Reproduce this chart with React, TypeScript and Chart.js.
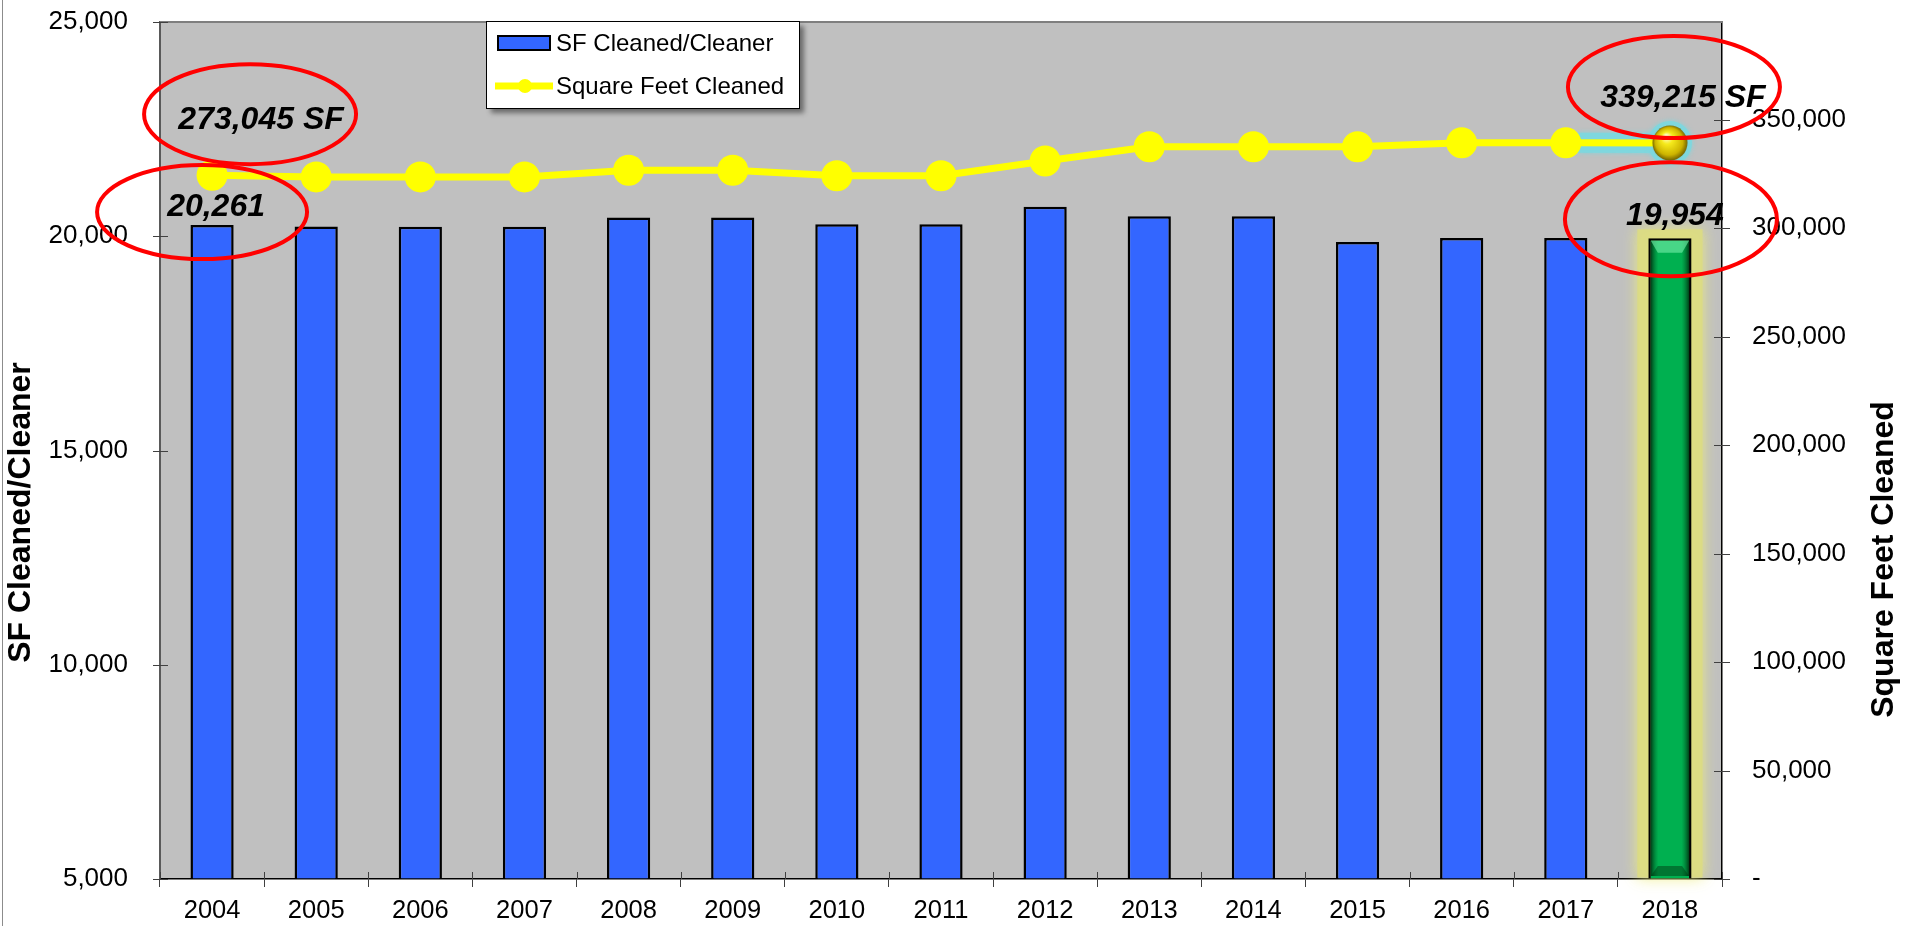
import React, { useEffect, useRef } from 'react';
import { Chart, registerables } from 'chart.js';

Chart.register(...registerables);

// ---------- data ----------
const years = ['2004', '2005', '2006', '2007', '2008', '2009', '2010', '2011', '2012', '2013', '2014', '2015', '2016', '2017', '2018'];
const sfPerCleaner = [20261, 20230, 20220, 20220, 20440, 20440, 20280, 20280, 20690, 20465, 20465, 19865, 19960, 19960, 19954];
const squareFeetCleaned = [324400, 323600, 323600, 323600, 326700, 326700, 324100, 324100, 330900, 337500, 337500, 337500, 339300, 339300, 339215];
const leftTicks = [5000, 10000, 15000, 20000, 25000];
const leftAxisRange = [5000, 25000];
const rightTicks = [0, 50000, 100000, 150000, 200000, 250000, 300000, 350000];
const rightAxisRange = [0, 395000];
const barCalloutIndex = [0, 14];
const lineCalloutIndex = [0, 14];
const lineCalloutText = ['273,045 SF', '339,215 SF'];
const highlightIndex = 14;

// ---------- styles ----------
const FONT = "'Liberation Sans', Arial, Helvetica, sans-serif";
const BLUE = '#3366ff';
const GREEN = '#00b050';
const YELLOW = '#ffff00';
const PLOT_BG = '#c0c0c0';
const TICK = '#404040';
// label offsets (dx, baseline dy) and ellipse (dx, dy, rx, ry) relative to anchors
const barLabelStyle = [
  { dx: 4, dy: -9, ex: -10, ey: -13, rx: 105, ry: 47 },
  { dx: 5, dy: -13, ex: 1, ey: -19, rx: 106, ry: 57 },
];
const lineLabelStyle = [
  { dx: 49, dy: -46, ex: 38, ey: -61, rx: 106, ry: 50 },
  { dx: 13, dy: -36, ex: 4, ey: -56, rx: 106, ry: 51 },
];

const fmt = (v: number) => Number(v).toLocaleString('en-US');

function makeSphere(): HTMLCanvasElement {
  const s = document.createElement('canvas');
  s.width = 36;
  s.height = 36;
  const c = s.getContext('2d')!;
  const g = c.createRadialGradient(14, 11, 1, 18, 18, 18);
  g.addColorStop(0, '#ffffd8');
  g.addColorStop(0.3, '#f6ea1c');
  g.addColorStop(0.75, '#cdb400');
  g.addColorStop(1, '#6a5a00');
  c.fillStyle = g;
  c.beginPath();
  c.arc(18, 18, 17.5, 0, Math.PI * 2);
  c.fill();
  return s;
}

const decorPlugin = {
  id: 'decor',
  beforeDraw(chart: any) {
    const { ctx, chartArea: a } = chart;
    ctx.save();
    ctx.fillStyle = '#ffffff';
    ctx.fillRect(0, 0, chart.width, chart.height);
    ctx.fillStyle = PLOT_BG;
    ctx.fillRect(a.left, a.top, a.right - a.left, a.bottom - a.top);
    ctx.strokeStyle = '#8c8c8c';
    ctx.lineWidth = 1;
    ctx.beginPath();
    ctx.moveTo(2.5, 0);
    ctx.lineTo(2.5, chart.height);
    ctx.stroke();
    ctx.restore();
  },
  beforeDatasetDraw(chart: any, args: any) {
    const ctx = chart.ctx;
    if (args.index === 0) {
      const el = args.meta.data[highlightIndex];
      if (!el) return;
      const { x, y, base, width } = el.getProps(['x', 'y', 'base', 'width'], true);
      const pad = 11;
      ctx.save();
      ctx.shadowColor = 'rgba(238,238,120,0.95)';
      ctx.shadowBlur = 14;
      ctx.fillStyle = 'rgba(220,220,130,0.9)';
      ctx.fillRect(x - width / 2 - pad, y - 9, width + pad * 2, base - y + 8);
      ctx.restore();
    }
    if (args.index === 1) {
      const pts = args.meta.data;
      const p1 = pts[highlightIndex - 1];
      const p2 = pts[highlightIndex];
      if (!p1 || !p2) return;
      ctx.save();
      ctx.strokeStyle = 'rgba(125,215,222,0.95)';
      ctx.shadowColor = 'rgba(125,215,222,1)';
      ctx.shadowBlur = 5;
      ctx.lineWidth = 20;
      ctx.beginPath();
      ctx.moveTo(p1.x + 12, p1.y);
      ctx.lineTo(p2.x, p2.y);
      ctx.stroke();
      ctx.fillStyle = 'rgba(125,215,222,0.95)';
      ctx.beginPath();
      ctx.arc(p2.x, p2.y, 22, 0, Math.PI * 2);
      ctx.fill();
      ctx.restore();
    }
  },
  afterDatasetDraw(chart: any, args: any) {
    if (args.index !== 0) return;
    const ctx = chart.ctx;
    const el = args.meta.data[highlightIndex];
    if (!el) return;
    const { x, y, base, width } = el.getProps(['x', 'y', 'base', 'width'], true);
    const bw = 2.5;
    const l = x - width / 2 + bw, r = x + width / 2 - bw, t = y + bw, b = base - bw;
    ctx.save();
    const g = ctx.createLinearGradient(l, 0, r, 0);
    g.addColorStop(0, 'rgba(0,45,15,0.85)');
    g.addColorStop(0.2, 'rgba(0,110,45,0)');
    g.addColorStop(0.8, 'rgba(0,110,45,0)');
    g.addColorStop(1, 'rgba(0,45,15,0.85)');
    ctx.fillStyle = g;
    ctx.fillRect(l, t, r - l, b - t);
    ctx.fillStyle = 'rgba(110,235,165,0.65)';
    ctx.beginPath();
    ctx.moveTo(l, t);
    ctx.lineTo(r, t);
    ctx.lineTo(r - 7, t + 12);
    ctx.lineTo(l + 7, t + 12);
    ctx.closePath();
    ctx.fill();
    ctx.fillStyle = 'rgba(0,60,20,0.5)';
    ctx.beginPath();
    ctx.moveTo(l, b);
    ctx.lineTo(r, b);
    ctx.lineTo(r - 7, b - 10);
    ctx.lineTo(l + 7, b - 10);
    ctx.closePath();
    ctx.fill();
    ctx.restore();
  },
  afterDraw(chart: any) {
    const { ctx, chartArea: a } = chart;
    const xs = chart.scales.x, yl = chart.scales.y, yr = chart.scales.y1;
    ctx.save();
    // top border of plot
    ctx.strokeStyle = '#7f7f7f';
    ctx.lineWidth = 2;
    ctx.beginPath();
    ctx.moveTo(a.left, a.top);
    ctx.lineTo(a.right, a.top);
    ctx.stroke();
    // tick marks (crossing the axes)
    ctx.strokeStyle = TICK;
    ctx.lineWidth = 1;
    ctx.beginPath();
    for (let i = 0; i <= years.length; i++) {
      const px = Math.round(xs.getPixelForValue(i - 0.5)) + 0.5;
      ctx.moveTo(px, a.bottom - 7);
      ctx.lineTo(px, a.bottom);
    }
    yl.ticks.forEach((t: any) => {
      const py = Math.round(yl.getPixelForValue(t.value)) + 0.5;
      ctx.moveTo(a.left - 7, py);
      ctx.lineTo(a.left + 8, py);
    });
    yr.ticks.forEach((t: any) => {
      const py = Math.round(yr.getPixelForValue(t.value)) + 0.5;
      ctx.moveTo(a.right - 8, py);
      ctx.lineTo(a.right + 8, py);
    });
    ctx.stroke();

    // axis titles
    const mid = (a.top + a.bottom) / 2;
    ctx.fillStyle = '#000';
    ctx.font = `bold 32px ${FONT}`;
    ctx.textAlign = 'center';
    ctx.textBaseline = 'middle';
    ctx.save();
    ctx.translate(21, mid + 62);
    ctx.rotate(-Math.PI / 2);
    ctx.fillText(chart.data.datasets[0].label, 0, 0);
    ctx.restore();
    ctx.save();
    ctx.translate(1884, mid + 109);
    ctx.rotate(-Math.PI / 2);
    ctx.fillText(chart.data.datasets[1].label, 0, 0);
    ctx.restore();

    // legend
    const lx = a.left + 326, ly = a.top - 1, lw = 313, lh = 87;
    ctx.save();
    ctx.shadowColor = 'rgba(0,0,0,0.45)';
    ctx.shadowBlur = 5;
    ctx.shadowOffsetX = 5;
    ctx.shadowOffsetY = 5;
    ctx.fillStyle = '#ffffff';
    ctx.fillRect(lx, ly, lw, lh);
    ctx.restore();
    ctx.strokeStyle = '#000';
    ctx.lineWidth = 1;
    ctx.strokeRect(lx + 0.5, ly + 0.5, lw, lh);
    ctx.fillStyle = BLUE;
    ctx.fillRect(lx + 12, ly + 15, 52, 14);
    ctx.lineWidth = 2;
    ctx.strokeRect(lx + 12, ly + 15, 52, 14);
    ctx.strokeStyle = YELLOW;
    ctx.lineWidth = 7;
    ctx.beginPath();
    ctx.moveTo(lx + 9, ly + 65);
    ctx.lineTo(lx + 67, ly + 65);
    ctx.stroke();
    ctx.fillStyle = YELLOW;
    ctx.beginPath();
    ctx.arc(lx + 39, ly + 65, 7, 0, Math.PI * 2);
    ctx.fill();
    ctx.fillStyle = '#000';
    ctx.font = `24px ${FONT}`;
    ctx.textAlign = 'left';
    ctx.textBaseline = 'middle';
    ctx.fillText(chart.data.datasets[0].label, lx + 70, ly + 23);
    ctx.fillText(chart.data.datasets[1].label, lx + 70, ly + 66);

    // callout labels and ellipses
    const barMeta = chart.getDatasetMeta(0);
    const lineMeta = chart.getDatasetMeta(1);
    ctx.font = `italic bold 32px ${FONT}`;
    ctx.textAlign = 'center';
    ctx.textBaseline = 'alphabetic';
    const ellipses: any[] = [];
    barCalloutIndex.forEach((idx, k) => {
      const el = barMeta.data[idx];
      const st = barLabelStyle[k];
      ctx.fillStyle = '#000';
      ctx.fillText(fmt(sfPerCleaner[idx]), el.x + st.dx, el.y + st.dy);
      ellipses.push([el.x + st.ex, el.y + st.ey, st.rx, st.ry]);
    });
    lineCalloutIndex.forEach((idx, k) => {
      const el = lineMeta.data[idx];
      const st = lineLabelStyle[k];
      ctx.fillStyle = '#000';
      ctx.fillText(lineCalloutText[k], el.x + st.dx, el.y + st.dy);
      ellipses.push([el.x + st.ex, el.y + st.ey, st.rx, st.ry]);
    });
    ctx.strokeStyle = '#ff0000';
    ctx.lineWidth = 4;
    ellipses.forEach(([cx, cy, rx, ry]) => {
      ctx.beginPath();
      ctx.ellipse(cx, cy, rx, ry, 0, 0, Math.PI * 2);
      ctx.stroke();
    });
    ctx.restore();
  },
};

export default function App() {
  const ref = useRef<HTMLCanvasElement>(null);
  useEffect(() => {
    document.body.style.margin = '0';
    const canvas = ref.current!;
    const sphere = makeSphere();
    const chart = new Chart(canvas, {
      type: 'bar',
      data: {
        labels: years,
        datasets: [
          {
            type: 'bar',
            label: 'SF Cleaned/Cleaner',
            data: sfPerCleaner,
            yAxisID: 'y',
            base: leftAxisRange[0],
            backgroundColor: sfPerCleaner.map((_, i) => (i === highlightIndex ? GREEN : BLUE)),
            borderColor: '#000',
            borderWidth: 2.5,
            barPercentage: 0.415,
            categoryPercentage: 1,
            order: 1,
          } as any,
          {
            type: 'line',
            label: 'Square Feet Cleaned',
            data: squareFeetCleaned,
            yAxisID: 'y1',
            borderColor: YELLOW,
            borderWidth: 7,
            tension: 0,
            pointRadius: 15.5,
            pointBackgroundColor: YELLOW,
            pointBorderColor: YELLOW,
            pointBorderWidth: 0,
            pointStyle: squareFeetCleaned.map((_, i) => (i === highlightIndex ? sphere : 'circle')),
            order: 0,
          } as any,
        ],
      },
      options: {
        animation: false,
        responsive: false,
        devicePixelRatio: 1,
        events: [],
        layout: { padding: { top: 22, left: 0, right: 0, bottom: 0 } },
        plugins: { legend: { display: false }, tooltip: { enabled: false } },
        scales: {
          x: {
            offset: true,
            grid: { display: true, drawOnChartArea: false, drawTicks: true, tickLength: 8, color: TICK, offset: true },
            border: { display: true, color: '#000', width: 1.5 },
            ticks: { color: '#000', font: { family: FONT, size: 25.5 }, padding: 9, maxRotation: 0, autoSkip: false },
            afterFit: (s: any) => { s.height = 47; },
          },
          y: {
            position: 'left',
            min: leftAxisRange[0],
            max: leftAxisRange[1],
            afterBuildTicks: (s: any) => { s.ticks = leftTicks.map((v) => ({ value: v })); },
            ticks: { color: '#000', font: { family: FONT, size: 26 }, padding: 0, callback: (v: any) => fmt(v) },
            grid: { drawOnChartArea: false, drawTicks: true, tickLength: 32, tickColor: 'rgba(0,0,0,0)' },
            border: { display: true, color: '#595959', width: 2 },
            afterFit: (s: any) => { s.width = 160; },
          },
          y1: {
            position: 'right',
            min: rightAxisRange[0],
            max: rightAxisRange[1],
            afterBuildTicks: (s: any) => { s.ticks = rightTicks.map((v) => ({ value: v })); },
            ticks: {
              color: '#000',
              font: { family: FONT, size: 26 },
              padding: 0,
              callback: (v: any) => (Number(v) === 0 ? '-' : fmt(v)),
            },
            grid: { drawOnChartArea: false, drawTicks: true, tickLength: 30, tickColor: 'rgba(0,0,0,0)' },
            border: { display: true, color: '#000', width: 1.5 },
            afterFit: (s: any) => { s.width = 188; },
          },
        },
      } as any,
      plugins: [decorPlugin],
    });
    return () => chart.destroy();
  }, []);
  return (
    <div style={{ width: 1910, height: 926 }}>
      <canvas ref={ref} width={1910} height={926} style={{ display: 'block', width: 1910, height: 926 }} />
    </div>
  );
}
